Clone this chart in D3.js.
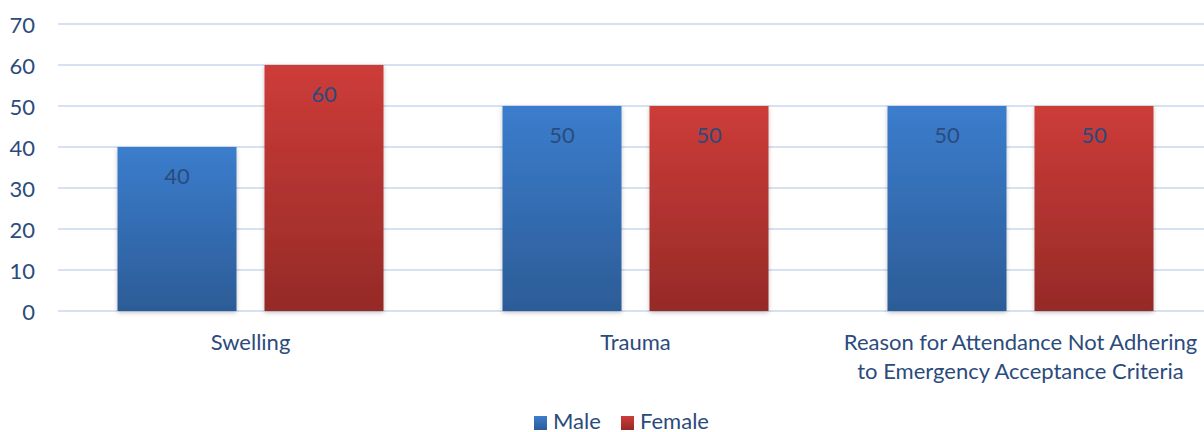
<!DOCTYPE html>
<html>
<head>
<meta charset="utf-8">
<script src="https://cdn.jsdelivr.net/npm/d3@7"></script>
<style>
  html, body { margin: 0; padding: 0; background: #fff; }
  svg { display: block; font-family: Lato, "Open Sans", sans-serif; }
</style>
</head>
<body>
<svg id="chart" width="1204" height="432"></svg>
<script>
// -- Data --
const categories = ["Swelling", "Trauma", "Reason for Attendance Not Adhering|to Emergency Acceptance Criteria"];
const seriesNames = ["Male", "Female"];
const maleValues = [40, 50, 50];
const femaleValues = [60, 50, 50];
const yTicks = [0, 10, 20, 30, 40, 50, 60, 70];

const textColor = "#2B4B7C";
const fontSize = "22px";
const colors = {
    Male: ["#3B7DCD", "#2C5C97"],
    Female: ["#CD3C39", "#952A27"]
};

const svg = d3.select("#chart");

// -- Scales --
const x0 = d3.scaleBand()
    .domain(categories)
    .range([58, 1213])
    .paddingInner(0)
    .paddingOuter(0);

const x1 = d3.scaleBand()
    .domain(seriesNames)
    .range([59.5, 385 - 59.5])
    .paddingInner(28 / 147);

const y = d3.scaleLinear().domain([0, 70]).range([311, 24]);

// -- Gradients & shadow --
const defs = svg.append("defs");
seriesNames.forEach(name => {
    const g = defs.append("linearGradient")
        .attr("id", "grad-" + name)
        .attr("x1", 0).attr("y1", 0).attr("x2", 0).attr("y2", 1);
    g.append("stop").attr("offset", "0%").attr("stop-color", colors[name][0]);
    g.append("stop").attr("offset", "100%").attr("stop-color", colors[name][1]);
});
const filter = defs.append("filter").attr("id", "shadow")
    .attr("x", "-10%").attr("y", "-10%").attr("width", "120%").attr("height", "120%");
filter.append("feDropShadow")
    .attr("dx", 0).attr("dy", 1.5).attr("stdDeviation", 2)
    .attr("flood-color", "#000").attr("flood-opacity", 0.25);

// -- Gridlines & y axis --
svg.append("g")
    .selectAll("line")
    .data(yTicks)
    .join("line")
    .attr("x1", 58).attr("x2", 1204)
    .attr("y1", d => y(d)).attr("y2", d => y(d))
    .attr("stroke", "#D6E1F1")
    .attr("stroke-width", 2);

svg.append("g")
    .selectAll("text")
    .data(yTicks)
    .join("text")
    .attr("x", 35)
    .attr("y", d => y(d))
    .attr("text-anchor", "end")
    .attr("dominant-baseline", "central")
    .attr("fill", textColor)
    .style("font-size", fontSize)
    .text(d => d);

// -- Bars --
const rows = categories.map((c, i) => ({
    category: c,
    values: [
        { series: "Male", value: maleValues[i] },
        { series: "Female", value: femaleValues[i] }
    ]
}));

const groups = svg.append("g")
    .selectAll("g")
    .data(rows)
    .join("g")
    .attr("transform", d => `translate(${x0(d.category)},0)`);

groups.selectAll("rect")
    .data(d => d.values)
    .join("rect")
    .attr("x", d => x1(d.series))
    .attr("width", x1.bandwidth())
    .attr("y", d => y(d.value))
    .attr("height", d => y(0) - y(d.value))
    .attr("fill", d => `url(#grad-${d.series})`)
    .attr("filter", "url(#shadow)");

groups.selectAll("text.value")
    .data(d => d.values)
    .join("text")
    .attr("class", "value")
    .attr("x", d => x1(d.series) + x1.bandwidth() / 2)
    .attr("y", d => y(d.value) + 28)
    .attr("text-anchor", "middle")
    .attr("dominant-baseline", "central")
    .attr("fill", textColor)
    .style("font-size", fontSize)
    .text(d => d.value);

// -- Category labels --
svg.append("g")
    .selectAll("text")
    .data(categories)
    .join("text")
    .attr("x", d => x0(d) + x0.bandwidth() / 2)
    .attr("y", 342)
    .attr("text-anchor", "middle")
    .attr("fill", textColor)
    .style("font-size", fontSize)
    .each(function(d) {
        const lines = d.split("|");
        d3.select(this).selectAll("tspan")
            .data(lines)
            .join("tspan")
            .attr("x", x0(d) + x0.bandwidth() / 2)
            .attr("dy", (l, i) => i === 0 ? "0.35em" : "29px")
            .text(l => l);
    });

// -- Legend --
const legend = svg.append("g");
const legendX = [534, 621];
seriesNames.forEach((name, i) => {
    legend.append("rect")
        .attr("x", legendX[i]).attr("y", 416)
        .attr("width", 13).attr("height", 14)
        .attr("fill", `url(#grad-${name})`);
    legend.append("text")
        .attr("x", legendX[i] + 19).attr("y", 420)
        .attr("dominant-baseline", "central")
        .attr("fill", textColor)
        .style("font-size", fontSize)
        .text(name);
});
</script>
</body>
</html>
